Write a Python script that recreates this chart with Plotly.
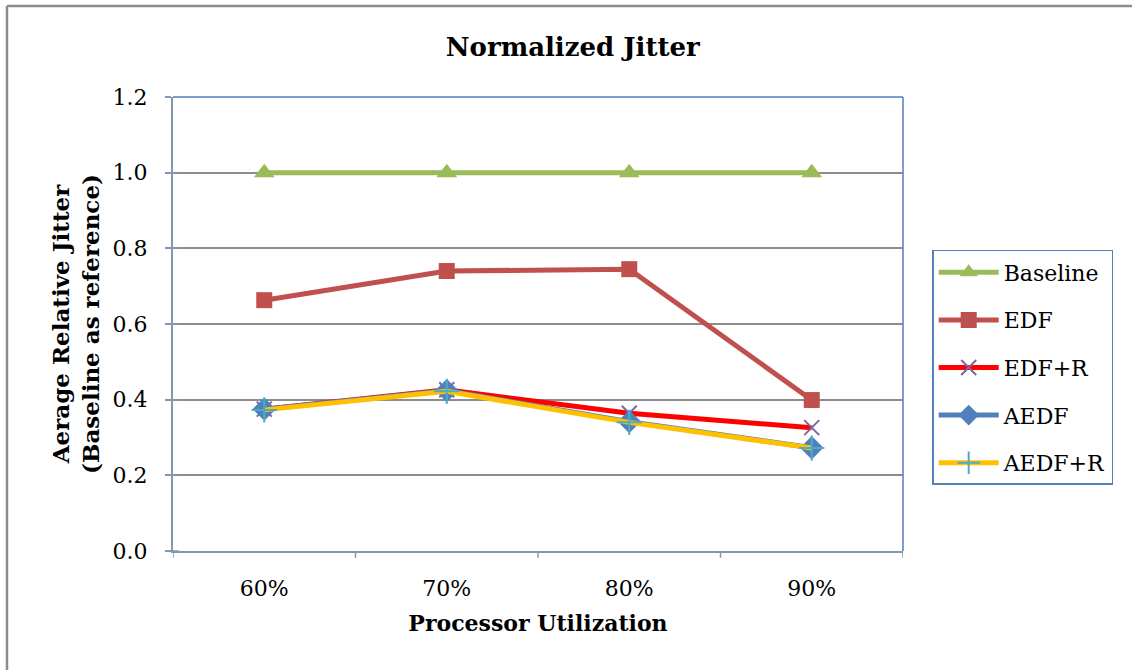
import plotly.graph_objects as go

categories = ["60%", "70%", "80%", "90%"]
baseline = [1.0, 1.0, 1.0, 1.0]
edf = [0.663, 0.740, 0.745, 0.399]
edf_r = [0.375, 0.426, 0.364, 0.326]
aedf = [0.375, 0.424, 0.342, 0.273]
aedf_r = [0.373, 0.422, 0.340, 0.272]
y_ticks = [0.0, 0.2, 0.4, 0.6, 0.8, 1.0, 1.2]

FONT = "DejaVu Serif"

fig = go.Figure()
fig.add_trace(go.Scatter(x=categories, y=baseline, name="Baseline", mode="lines+markers",
                         legendgroup="a",
                         line=dict(color="#9BBB59", width=5),
                         marker=dict(symbol="triangle-up", size=18, color="#9BBB59")))
fig.add_trace(go.Scatter(x=categories, y=edf, name="EDF", mode="lines+markers",
                         legendgroup="b",
                         line=dict(color="#C0504D", width=5),
                         marker=dict(symbol="square", size=16, color="#C0504D")))
fig.add_trace(go.Scatter(x=categories, y=edf_r, name="EDF+R", mode="lines+markers",
                         legendgroup="c",
                         line=dict(color="#FF0000", width=5),
                         marker=dict(symbol="x-thin", size=15, color="#8064A2",
                                     line=dict(color="#8064A2", width=2))))
fig.add_trace(go.Scatter(x=categories, y=aedf, name="AEDF", mode="lines+markers",
                         legendgroup="d",
                         line=dict(color="#4F81BD", width=5),
                         marker=dict(symbol="diamond", size=18, color="#4F81BD")))
fig.add_trace(go.Scatter(x=categories, y=aedf_r, name="AEDF+R", mode="lines+markers",
                         legendgroup="e",
                         line=dict(color="#FFC000", width=5),
                         marker=dict(symbol="cross-thin", size=18, color="#4BACC6",
                                     line=dict(color="#4BACC6", width=2))))

fig.update_layout(
    width=1132, height=670,
    margin=dict(l=173, r=229, t=97, b=119),
    paper_bgcolor="white", plot_bgcolor="white",
    font=dict(family=FONT, size=22, color="black"),
    title=dict(text="<b>Normalized Jitter</b>", x=0.506, xanchor="center",
               y=0.93, yanchor="middle", font=dict(family=FONT, size=26, color="black")),
    legend=dict(x=1.04, y=0.663, xanchor="left", yanchor="top",
                bordercolor="#4F81BD", borderwidth=1.5, bgcolor="white",
                font=dict(family=FONT, size=22, color="black"),
                tracegroupgap=16, itemwidth=60),
    showlegend=True,
)

fig.update_xaxes(
    type="category", range=[-0.5, 3.5],
    showline=True, linecolor="#8497B0", linewidth=2, mirror=False,
    ticks="", showgrid=False,
    tickfont=dict(family=FONT, size=22), ticklabelstandoff=17,
    title=dict(text="<b>Processor Utilization</b>", font=dict(family=FONT, size=22), standoff=15),
)
fig.update_yaxes(
    range=[0, 1.2], tickvals=y_ticks, ticktext=[f"{v:.1f}" for v in y_ticks],
    showline=True, linecolor="#8497B0", linewidth=2,
    ticks="outside", ticklen=6, tickcolor="#8497B0", tickwidth=1.5,
    showgrid=True, gridcolor="#8C8C8C", gridwidth=1.5, zeroline=False,
    tickfont=dict(family=FONT, size=22), ticklabelstandoff=13,
    title=dict(text="<b>Aerage Relative Jitter<br>(Baseline as reference)</b>",
               font=dict(family=FONT, size=23), standoff=7),
)

# plot area border (top and right)
fig.add_shape(type="line", xref="paper", yref="paper", x0=0, x1=1, y0=1, y1=1,
              line=dict(color="#4F81BD", width=1.5))
fig.add_shape(type="line", xref="paper", yref="paper", x0=1, x1=1, y0=0, y1=1,
              line=dict(color="#4F81BD", width=1.5))
# x-axis tick marks at category boundaries
for b in [-0.5, 0.5, 1.5, 2.5, 3.5]:
    fig.add_shape(type="line", xref="x", yref="paper", x0=b, x1=b, y0=0, y1=-0.015,
                  line=dict(color="#8497B0", width=1.5))
# y-axis inner tick marks (crossing)
for v in y_ticks:
    fig.add_shape(type="line", xref="paper", yref="y", x0=0, x1=0.008, y0=v, y1=v,
                  line=dict(color="#8497B0", width=1.5))
# outer chart frame (left and top edges)
fig.add_shape(type="line", xref="paper", yref="paper",
              x0=(7 - 173) / 730, x1=(1132 - 173) / 730,
              y0=(551 - 6) / 454, y1=(551 - 6) / 454,
              line=dict(color="#8C8C8C", width=2.5))
fig.add_shape(type="line", xref="paper", yref="paper",
              x0=(7 - 173) / 730, x1=(7 - 173) / 730,
              y0=(551 - 6) / 454, y1=(551 - 680) / 454,
              line=dict(color="#8C8C8C", width=2.5))

fig.write_html("out.html")
